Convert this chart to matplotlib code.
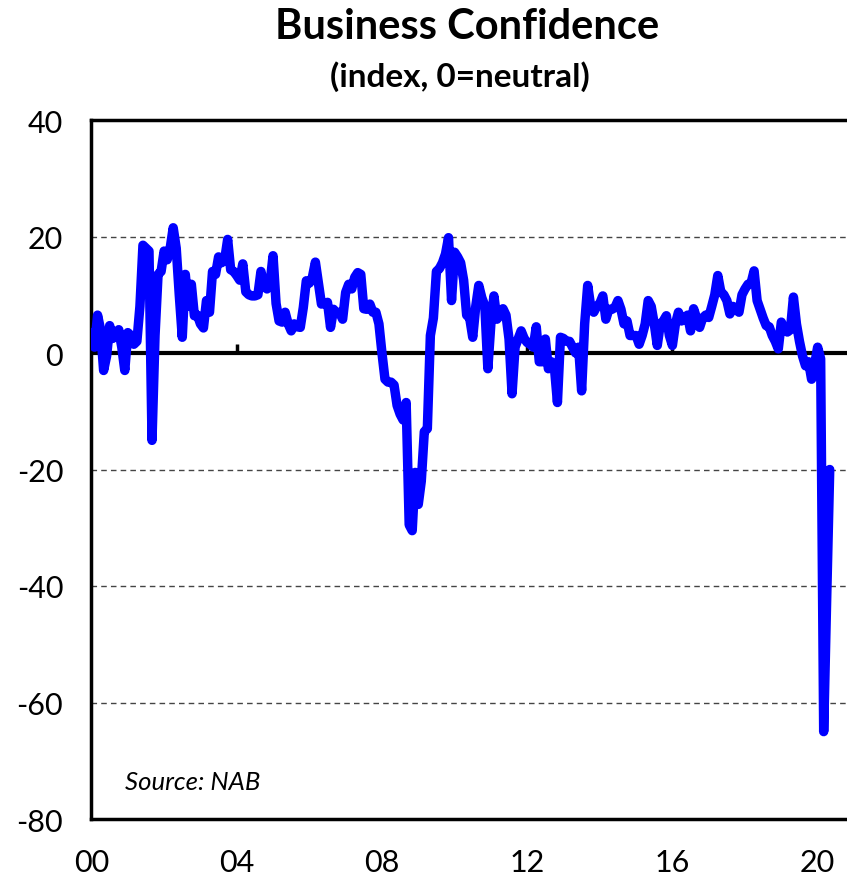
import matplotlib
matplotlib.use("Agg")
import matplotlib.pyplot as plt
import numpy as np

# ---- data (monthly, Jan 2000 - May 2020) ----
start_year = 2000
confidence = [
    # 2000
    3.5, 1.0, 6.5, 4.0, -3.0, -0.5, 4.7, 2.5, 3.0, 4.0, 1.0, -3.0,
    # 2001
    3.5, 3.0, 1.5, 2.0, 8.0, 18.5, 18.0, 17.5, -15.0, 3.0, 13.5, 14.0,
    # 2002
    17.5, 16.0, 18.0, 21.5, 18.0, 10.0, 2.7, 13.5, 8.0, 11.8, 6.4, 6.5,
    # 2003
    5.0, 4.3, 9.0, 7.0, 14.0, 13.5, 16.5, 15.5, 16.0, 19.5, 14.3, 14.0,
    # 2004
    13.3, 12.5, 15.3, 10.5, 10.0, 9.8, 9.8, 10.0, 14.0, 11.5, 11.0, 12.0,
    # 2005
    16.7, 8.5, 5.5, 5.3, 7.0, 5.0, 3.8, 5.0, 4.5, 4.4, 7.8, 12.4,
    # 2006
    12.0, 13.0, 15.6, 12.0, 8.4, 8.5, 8.7, 4.4, 7.5, 6.8, 7.0, 5.8,
    # 2007
    10.4, 11.8, 11.0, 13.0, 13.8, 13.5, 7.6, 7.5, 8.4, 7.0, 7.0, 5.0,
    # 2008
    0.0, -4.5, -5.0, -5.0, -5.5, -9.0, -10.5, -11.5, -8.5, -29.5, -30.5, -20.5,
    # 2009
    -26.0, -22.0, -13.5, -13.0, 3.0, 6.0, 14.0, 14.5, 15.5, 17.0, 19.8, 9.0,
    # 2010
    17.3, 16.5, 15.5, 12.5, 6.5, 6.0, 2.7, 8.0, 11.6, 9.5, 8.1, -2.7,
    # 2011
    5.0, 9.8, 5.8, 6.5, 7.6, 6.5, 2.4, -7.0, 1.0, 2.4, 3.8, 2.5,
    # 2012
    1.8, 1.5, 1.0, 4.5, -1.5, -1.5, 2.4, -2.7, -1.5, -2.5, -8.5, 2.7,
    # 2013
    2.5, 2.0, 2.0, 1.0, 0.0, 1.0, -6.5, 5.0, 11.6, 8.0, 7.0, 8.0,
    # 2014
    8.5, 9.8, 5.8, 7.5, 7.5, 7.8, 9.0, 7.5, 5.0, 5.5, 3.0, 3.0,
    # 2015
    3.0, 1.5, 3.0, 5.0, 9.0, 8.0, 5.0, 1.3, 5.0, 5.5, 6.4, 3.0,
    # 2016
    1.3, 5.0, 7.0, 5.5, 6.0, 6.5, 3.8, 7.6, 6.0, 4.4, 6.0, 6.5,
    # 2017
    6.1, 8.0, 10.0, 13.3, 10.5, 10.0, 9.0, 6.7, 8.0, 7.5, 7.0, 10.0,
    # 2018
    11.0, 11.8, 12.0, 14.1, 9.0, 7.5, 6.0, 4.7, 4.5, 3.0, 2.0, 0.7,
    # 2019
    5.3, 4.0, 3.6, 4.0, 9.6, 5.0, 2.0, -0.5, -2.2, -1.5, -4.5, -2.0,
    # 2020
    1.0, -1.0, -65.0, -42.0, -20.0,
]
tick_years = [2000, 2004, 2008, 2012, 2016, 2020]
tick_labels = ["00", "04", "08", "12", "16", "20"]
y_ticks = [-80, -60, -40, -20, 0, 20, 40]
grid_levels = [-60, -40, -20, 20]

x = start_year + np.arange(len(confidence)) / 12.0

W, H = 847, 879
fig = plt.figure(figsize=(W / 100, H / 100), dpi=100)
ax = fig.add_axes([91 / W, (H - 820) / H, (850 - 91) / W, (820 - 121) / H])

font = "Lato"

for g in grid_levels:
    ax.axhline(g, color="#444444", lw=1.0, ls=(0, (4, 3)), zorder=1)
ax.axhline(0, color="black", lw=3.0, zorder=2)
ax.vlines(tick_years[1:], 0, 1.6, color="black", lw=2.5, zorder=2)

ax.plot(x, confidence, color="#0000FF", lw=6.8, solid_joinstyle="round",
        solid_capstyle="round", zorder=3)

ax.set_xlim(start_year - 0.014, start_year + 250.7 / 12)
ax.set_ylim(-80, 40)
ax.set_yticks(y_ticks)
ax.set_yticklabels([str(v) for v in y_ticks], fontsize=22, fontfamily=font)
ax.set_xticks(tick_years)
ax.set_xticklabels(tick_labels, fontsize=22, fontfamily=font)
ax.tick_params(axis="y", length=0, pad=20)
ax.tick_params(axis="x", length=0, pad=21)

for s in ax.spines.values():
    s.set_linewidth(2.5)
    s.set_color("black")

ax.text(0.045, 0.054, "Source: NAB", transform=ax.transAxes, fontsize=18.5,
        fontstyle="italic", fontfamily=font, va="center", ha="left")

fig.text(467 / W, 1 - 27 / H, "Business Confidence", ha="center", va="center",
         fontsize=30, fontweight="bold", fontfamily=font)
fig.text(460 / W, 1 - 77 / H, "(index, 0=neutral)", ha="center", va="center",
         fontsize=24, fontweight="bold", fontfamily=font)

fig.savefig("out.png", dpi=100)
